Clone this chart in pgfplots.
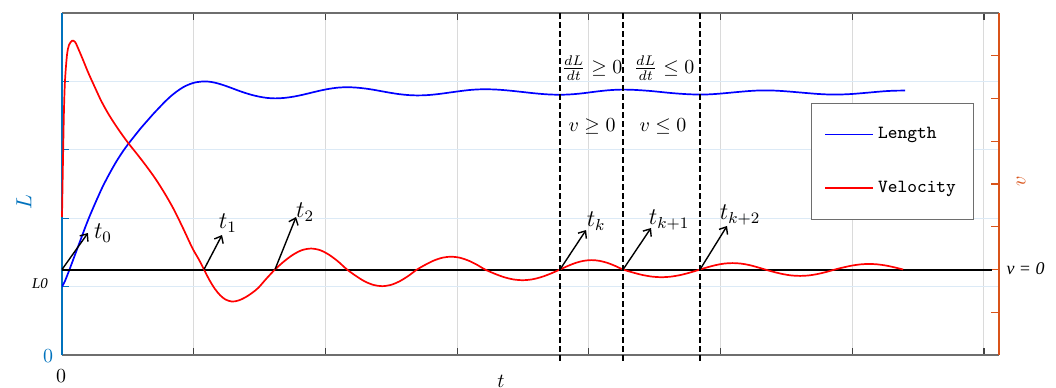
\documentclass[border=0pt]{standalone}
\usepackage{pgfplots}
\pgfplotsset{compat=1.18}
\usepackage{pgfplotstable}
\usepackage{fontspec}
\newfontfamily\tnr{Liberation Serif}
\usetikzlibrary{arrows.meta}
\definecolor{mblue}{RGB}{0,114,189}
\definecolor{morange}{RGB}{217,83,25}
\definecolor{gridblue}{RGB}{220,234,246}
\definecolor{gridgray}{RGB}{218,218,218}
\definecolor{boxgray}{RGB}{110,110,110}

\pgfplotstableread{
t L
0.000 1.000
0.020 1.070
0.040 1.165
0.061 1.270
0.090 1.420
0.120 1.575
0.150 1.730
0.175 1.860
0.210 2.030
0.250 2.210
0.280 2.340
0.311 2.470
0.360 2.650
0.410 2.820
0.460 2.970
0.501 3.080
0.550 3.200
0.600 3.320
0.650 3.430
0.691 3.520
0.740 3.620
0.780 3.700
0.830 3.790
0.873 3.855
0.920 3.915
0.970 3.960
1.020 3.988
1.078 4.000
1.120 3.995
1.160 3.982
1.200 3.961
1.240 3.936
1.290 3.901
1.340 3.865
1.390 3.832
1.440 3.803
1.490 3.780
1.550 3.760
1.617 3.752
1.685 3.758
1.754 3.776
1.822 3.802
1.891 3.834
1.959 3.865
2.027 3.891
2.096 3.909
2.164 3.915
2.231 3.910
2.297 3.897
2.364 3.878
2.430 3.855
2.497 3.832
2.563 3.813
2.630 3.800
2.696 3.795
2.761 3.798
2.825 3.808
2.890 3.823
2.954 3.840
3.019 3.857
3.083 3.872
3.148 3.882
3.212 3.885
3.283 3.882
3.354 3.873
3.425 3.860
3.497 3.845
3.568 3.830
3.639 3.817
3.710 3.808
3.781 3.805
3.841 3.808
3.901 3.816
3.961 3.828
4.021 3.843
4.080 3.857
4.140 3.869
4.200 3.877
4.260 3.880
4.333 3.877
4.406 3.869
4.479 3.858
4.552 3.844
4.625 3.830
4.698 3.819
4.771 3.811
4.844 3.808
4.906 3.810
4.968 3.817
5.029 3.827
5.091 3.838
5.153 3.849
5.215 3.859
5.276 3.866
5.338 3.868
5.404 3.866
5.471 3.859
5.537 3.849
5.604 3.838
5.670 3.827
5.736 3.817
5.803 3.810
5.869 3.808
5.934 3.810
5.998 3.816
6.063 3.826
6.128 3.837
6.192 3.848
6.257 3.858
6.321 3.864
6.386 3.866
6.401 3.867
}\lengthdata

\pgfplotstableread{
t v
0.000 1.23
0.0076 2.56
0.015 3.73
0.023 4.43
0.038 5.02
0.053 5.25
0.076 5.35
0.100 5.32
0.130 5.12
0.160 4.90
0.200 4.60
0.250 4.26
0.300 3.93
0.360 3.60
0.430 3.27
0.500 2.97
0.570 2.70
0.640 2.42
0.710 2.12
0.780 1.78
0.850 1.40
0.920 0.96
0.990 0.50
1.040 0.23
1.078 0.00
1.120 -0.25
1.160 -0.45
1.200 -0.60
1.240 -0.70
1.290 -0.75
1.340 -0.725
1.390 -0.655
1.440 -0.555
1.490 -0.43
1.550 -0.22
1.617 0.00
1.685 0.188
1.754 0.346
1.822 0.453
1.891 0.490
1.959 0.453
2.027 0.346
2.096 0.188
2.164 0.000
2.231 -0.149
2.297 -0.276
2.364 -0.360
2.430 -0.390
2.497 -0.360
2.563 -0.276
2.630 -0.149
2.696 0.000
2.761 0.115
2.825 0.212
2.890 0.277
2.954 0.300
3.019 0.277
3.083 0.212
3.148 0.115
3.212 0.000
3.283 -0.096
3.354 -0.177
3.425 -0.231
3.497 -0.250
3.568 -0.231
3.639 -0.177
3.710 -0.096
3.781 0.000
3.841 0.084
3.901 0.156
3.961 0.203
4.021 0.220
4.080 0.203
4.140 0.156
4.200 0.084
4.260 0.000
4.333 -0.069
4.406 -0.127
4.479 -0.166
4.552 -0.180
4.625 -0.166
4.698 -0.127
4.771 -0.069
4.844 0.000
4.906 0.057
4.968 0.106
5.029 0.139
5.091 0.150
5.153 0.139
5.215 0.106
5.276 0.057
5.338 0.000
5.404 -0.057
5.471 -0.106
5.537 -0.139
5.604 -0.150
5.670 -0.139
5.736 -0.106
5.803 -0.057
5.869 0.000
5.934 0.050
5.998 0.092
6.063 0.120
6.128 0.130
6.192 0.120
6.257 0.092
6.321 0.050
6.386 0.000
}\velocitydata

\begin{document}
\begin{tikzpicture}
\useasboundingbox (0,0) rectangle (528bp,194bp);
\begin{axis}[
  at={(31bp,16.5bp)}, anchor=south west,
  scale only axis, width=468.5bp, height=171bp,
  xmin=0, xmax=7.114, ymin=0, ymax=5,
  axis x line*=box, axis y line*=left,
  x axis line style={boxgray, line width=0.6bp},
  y axis line style={mblue, line width=0.6bp},
  xtick={1,...,7}, xticklabels={},
  ytick={1,2,3,4}, yticklabels={},
  xtick style={boxgray!60!black, line width=0.6bp},
  ytick style={mblue, line width=0.6bp},
  tick align=inside, major tick length=3.5bp,
  xmajorgrids, ymajorgrids,
  x grid style={gridgray, line width=0.5bp},
  y grid style={gridblue, line width=0.5bp},
]
\addplot[blue, line width=0.85bp, smooth] table[x=t, y=L] {\lengthdata};
\end{axis}

\begin{axis}[
  at={(31bp,16.5bp)}, anchor=south west,
  scale only axis, width=468.5bp, height=171bp,
  xmin=0, xmax=7.114, ymin=-2, ymax=6,
  axis x line=none, axis y line*=right,
  y axis line style={morange, line width=0.6bp},
  ytick={-1,...,5}, yticklabels={},
  ytick style={morange, line width=0.6bp},
  tick align=inside, major tick length=4bp,
  clip=false,
  legend style={at={(0.7994,0.7368)}, anchor=north west, draw=boxgray, fill=white,
    font=\ttfamily\fontsize{9.3}{11}\selectfont, inner xsep=6.5bp, inner ysep=10bp, row sep=15.5bp},
  legend cell align=left,
  legend image code/.code={\draw[#1] (0bp,0bp) -- (24bp,0bp);},
]
\addlegendimage{blue, line width=0.85bp}
\addlegendentry{Length}
\addlegendimage{red, line width=0.85bp}
\addlegendentry{Velocity}
\addplot[black, line width=1bp, forget plot] coordinates {(0,0) (7.06,0)};
\addplot[red, line width=0.85bp, smooth, forget plot] table[x=t, y=v] {\velocitydata};
\foreach \xx in {3.781,4.260,4.844}{
  \edef\temp{\noexpand\draw[black, line width=0.8bp, dash pattern=on 3bp off 1.5bp] (axis cs:\xx,6) -- (axis cs:\xx,-2.164);}
  \temp
}
\tikzset{arr/.style={-{Straight Barb[length=3bp,width=5bp]}, line width=0.7bp}}
\draw[arr] (axis cs:0,0) -- (axis cs:0.197,0.854);
\draw[arr] (axis cs:1.078,0) -- (axis cs:1.215,0.807);
\draw[arr] (axis cs:1.617,0) -- (axis cs:1.777,1.228);
\draw[arr] (axis cs:3.781,0) -- (axis cs:3.979,0.924);
\draw[arr] (axis cs:4.260,0) -- (axis cs:4.472,0.971);
\draw[arr] (axis cs:4.844,0) -- (axis cs:5.049,1.018);
\node[font=\large] at (axis cs:0.311,0.854) {$t_0$};
\node[font=\large] at (axis cs:1.260,1.088) {$t_1$};
\node[font=\large] at (axis cs:1.845,1.345) {$t_2$};
\node[font=\large] at (axis cs:4.055,1.135) {$t_k$};
\node[font=\large] at (axis cs:4.609,1.158) {$t_{k+1}$};
\node[font=\large] at (axis cs:5.148,1.275) {$t_{k+2}$};
\node at (axis cs:4.024,4.713) {$\frac{dL}{dt}\geq 0$};
\node at (axis cs:4.571,4.713) {$\frac{dL}{dt}\leq 0$};
\node at (axis cs:4.024,3.357) {$v\geq 0$};
\node at (axis cs:4.563,3.357) {$v\leq 0$};
\end{axis}

\node[mblue, rotate=90, font=\fontsize{11}{13}\selectfont] at (12bp,93bp) {$L$};
\node[mblue] at (24bp,16bp) {0};
\node[font=\tnr\itshape\fontsize{7.5}{9}\selectfont] at (20bp,52bp) {L0};
\node at (30.5bp,6bp) {0};
\node at (250.5bp,3.5bp) {$t$};
\node[morange, rotate=90] at (510.5bp,103.5bp) {$v$};
\node[font=\tnr\itshape\fontsize{9}{11}\selectfont] at (512.75bp,59.5bp) {v = 0};
\end{tikzpicture}
\end{document}
